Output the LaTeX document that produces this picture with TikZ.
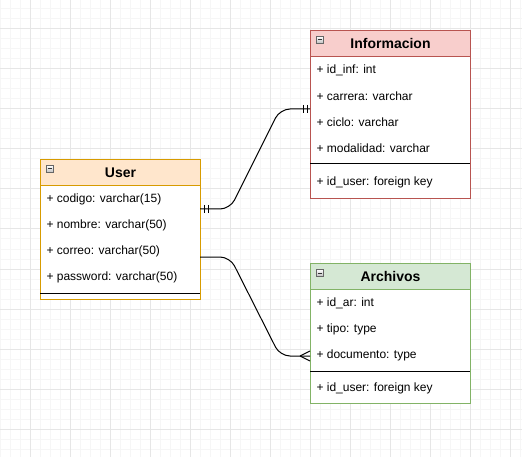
\documentclass[tikz,border=0pt]{standalone}
\usepackage{fontspec}
\setmainfont{Liberation Sans}
\definecolor{infofill}{HTML}{F8CECC}
\definecolor{infoline}{HTML}{B85450}
\definecolor{userfill}{HTML}{FFE6CC}
\definecolor{userline}{HTML}{D79B00}
\definecolor{arcfill}{HTML}{D5E8D4}
\definecolor{arcline}{HTML}{82B366}
\definecolor{gridminor}{HTML}{F6F6F6}
\definecolor{gridmajor}{HTML}{E6E6E6}
\begin{document}
\begin{tikzpicture}
  [x=1pt,y=-1pt,line width=1pt,every node/.style={inner sep=0pt,font=\fontsize{12}{14}\selectfont},
   table/.style={draw,rectangle,anchor=north west,minimum width=160pt},
   head/.style={table,minimum height=26pt,font=\bfseries\fontsize{14}{16}\selectfont},
   icon/.style={draw=black!60,line width=0.6pt,anchor=north west,minimum size=7pt,top color=white,bottom color=black!25,
     path picture={\draw[black!80] ([xshift=1.5pt]path picture bounding box.west) -- ([xshift=-1.5pt]path picture bounding box.east);}},
   row/.style={anchor=west}]
  \useasboundingbox (0,0) rectangle (522,457);
  % grid
  \foreach \x in {0,10,...,520} \draw[gridminor] (\x,0) -- (\x,457);
  \foreach \y in {9,19,...,449} \draw[gridminor] (0,\y) -- (522,\y);
  \foreach \x in {30,70,...,510} \draw[gridmajor] (\x,0) -- (\x,457);
  \foreach \y in {29,69,...,429} \draw[gridmajor] (0,\y) -- (522,\y);
  % Informacion
  \node (info) [table,draw=infoline,fill=white,minimum height=168pt] at (310,30) {};
  \node (infohead) [head,draw=infoline,fill=infofill] at (310,30) {Informacion};
  \node (infoicon) [icon] at (316,36) {};
  \foreach \y/\t [count=\i] in {70/{+ id\_inf: int},96/{+ carrera: varchar},122/{+ ciclo: varchar},148/{+ modalidad: varchar},182/{+ id\_user: foreign key}}
    \node (info\i) [row] at (316,\y) {\t};
  \draw (310,164) -- (470,164);
  % User
  \node (user) [table,draw=userline,fill=white,minimum height=140pt] at (40,159) {};
  \node (userhead) [head,draw=userline,fill=userfill] at (40,159) {User};
  \node (usericon) [icon] at (46,165) {};
  \foreach \y/\t [count=\i] in {199/{+ codigo: varchar(15)},225/{+ nombre: varchar(50)},251/{+ correo: varchar(50)},277/{+ password: varchar(50)}}
    \node (user\i) [row] at (46,\y) {\t};
  \draw (40,293) -- (200,293);
  % Archivos
  \node (arc) [table,draw=arcline,fill=white,minimum height=140pt] at (310,263) {};
  \node (archead) [head,draw=arcline,fill=arcfill] at (310,263) {Archivos};
  \node (arcicon) [icon] at (316,269) {};
  \foreach \y/\t [count=\i] in {303/{+ id\_ar: int},329/{+ tipo: type},355/{+ documento: type},388/{+ id\_user: foreign key}}
    \node (arc\i) [row] at (316,\y) {\t};
  \draw (310,371) -- (470,371);
  % relations
  \coordinate (u1) at (200,209);
  \coordinate (u2) at (200,257);
  \coordinate (i1) at (310,109);
  \coordinate (a1) at (310,356);
  \draw[rounded corners=10pt] (u1) -- ++(30,0) -- ([xshift=-30pt]i1) -- (i1);
  \draw[rounded corners=10pt] (u2) -- ++(30,0) -- ([xshift=-30pt]a1) -- (a1);
  \foreach \s in {4,8} \draw ([xshift=\s pt]u1) ++(0,-4) -- ++(0,8);
  \foreach \s in {3,7} \draw ([xshift=-\s pt]i1) ++(0,-4) -- ++(0,8);
  \draw ([xshift=-10pt]a1) -- ++(10,-5) ([xshift=-10pt]a1) -- ++(10,5);
\end{tikzpicture}
\end{document}
